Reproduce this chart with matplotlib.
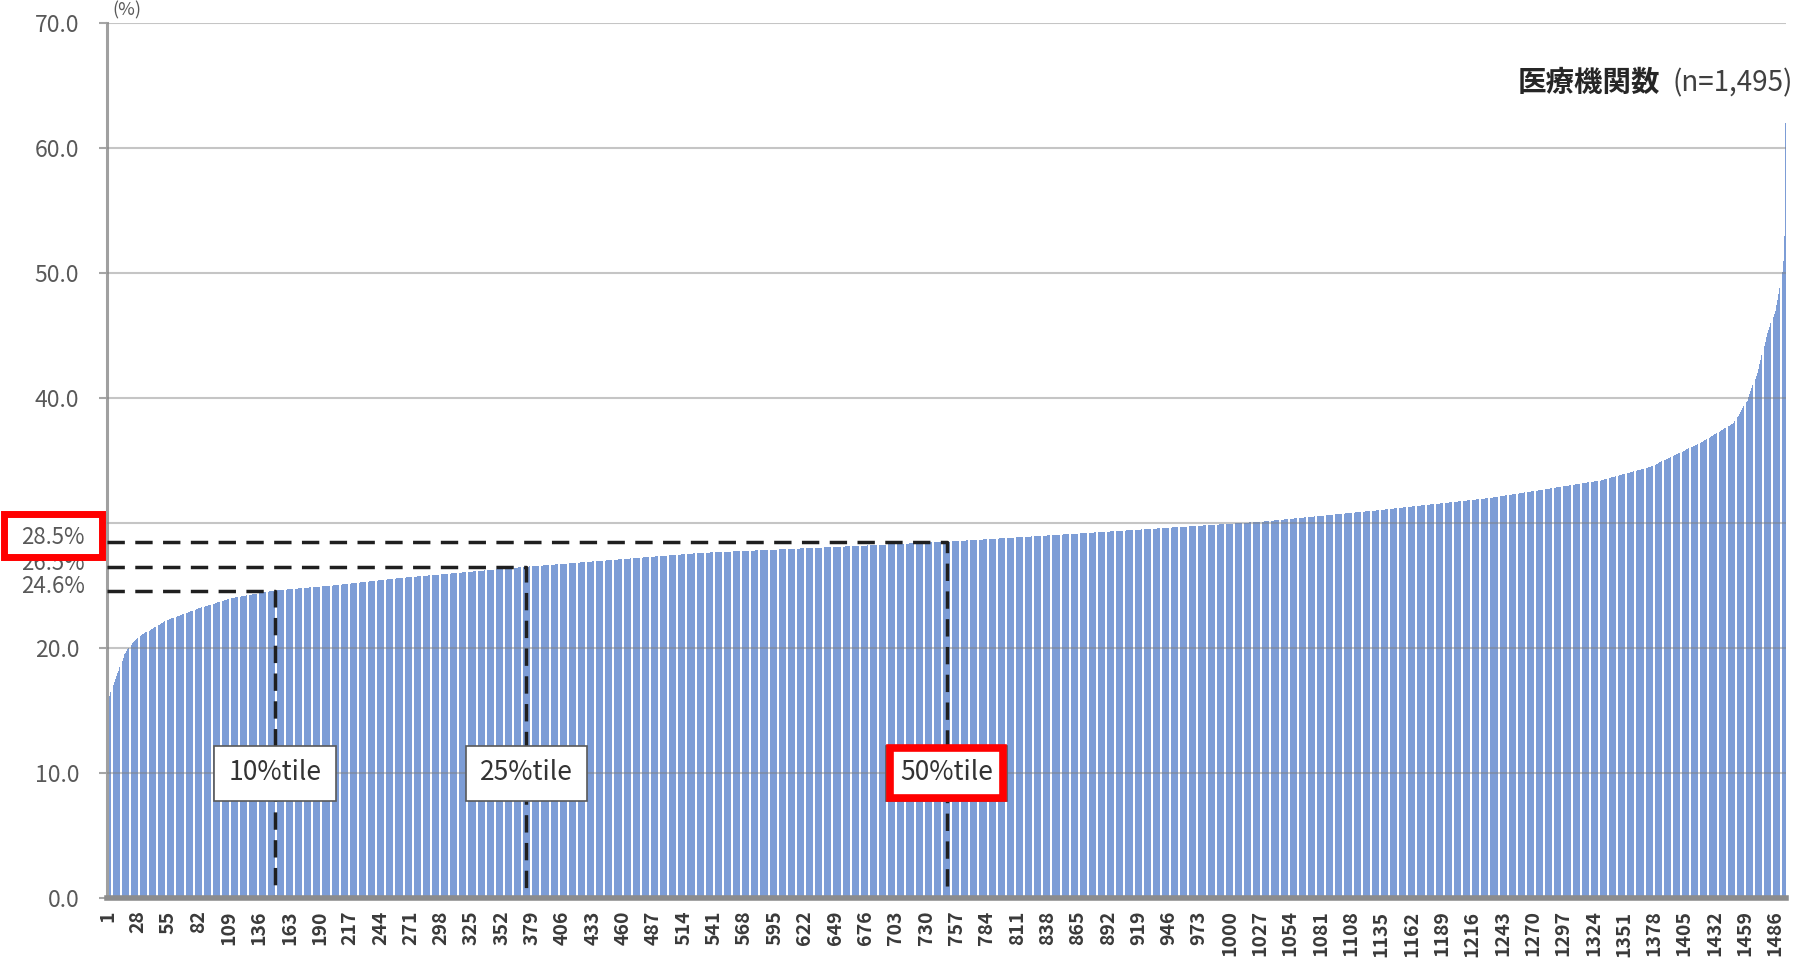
import numpy as np
import matplotlib.pyplot as plt
import matplotlib.transforms as mtransforms
from matplotlib.patches import Rectangle

plt.rcParams['font.family'] = ['Noto Sans CJK JP', 'DejaVu Sans']

n_total = 1495

# share (%) at a set of ranks, institutions sorted ascending
read_rank = [1, 2, 5, 11, 16, 23, 30, 38, 53, 83, 112, 143, 150, 201, 261, 374,
             528, 677, 748, 873, 1028, 1130, 1232, 1330, 1375, 1419, 1449, 1461,
             1470, 1479, 1486, 1491, 1493, 1494, 1495]
read_value = [15.5, 15.8, 16.8, 18.2, 19.5, 20.4, 21.0, 21.4, 22.2, 23.2, 24.0, 24.5,
              24.6, 25.0, 25.6, 26.5, 27.6, 28.2, 28.5, 29.2, 30.1, 31.0, 32.0, 33.4,
              34.5, 36.4, 38.0, 39.8, 42.0, 45.2, 47.0, 49.2, 51.0, 53.0, 62.0]

pct_names = ['10%tile', '25%tile', '50%tile']
pct_rank = [150, 374, 748]
pct_value = [24.6, 26.5, 28.5]
pct_label = ['24.6%', '26.5%', '28.5%']

y_ticks = [0, 10, 20, 30, 40, 50, 60, 70]
y_ticklabels = ['0.0', '10.0', '20.0', '', '40.0', '50.0', '60.0', '70.0']
x_label_step = 27

rank = np.arange(1, n_total + 1)
share = np.interp(rank, read_rank, read_value)

W, H = 1797, 960
fig = plt.figure(figsize=(W / 100, H / 100), dpi=100)
ax = fig.add_axes([107 / W, 1 - 898 / H, (1786 - 107) / W, (898 - 23) / H])

ax.bar(rank, share, width=0.78, color='#7d9dd6', linewidth=0, zorder=2)
ax.set_xlim(0.5, n_total + 0.5)
ax.set_ylim(0, 70)

# horizontal grid drawn over the bars, like the original
for y in y_ticks[1:]:
    ax.axhline(y, color='#7f7f7f', alpha=0.45, lw=1.5, zorder=3)

for s in ['top', 'right']:
    ax.spines[s].set_visible(False)
ax.spines['left'].set_color('#a0a0a0')
ax.spines['left'].set_linewidth(2.2)
ax.spines['bottom'].set_color('#8c8c8c')
ax.spines['bottom'].set_linewidth(4)
ax.spines['bottom'].set_zorder(8)

ax.set_yticks(y_ticks)
ax.set_yticklabels(y_ticklabels)
ax.tick_params(axis='y', length=6, width=1.5, color='#a6a6a6', pad=14,
               labelsize=16.5, labelcolor='#595959')

ax.set_xticks(rank[::x_label_step])
ax.set_xticklabels([str(r) for r in rank[::x_label_step]], rotation=90,
                   fontsize=14, fontweight='bold', color='#3a3a3a')
ax.tick_params(axis='x', length=0, pad=9)

# percentile guide lines and boxes
for name, r, v in zip(pct_names, pct_rank, pct_value):
    ax.plot([0.5, r, r], [v, v, 0], color='#1f1f1f', lw=2.5, dashes=(5, 3),
            zorder=4, clip_on=False)
    ax.add_patch(Rectangle((r - 54, 10 - 2.2), 108, 4.4, fc='white', ec='#595959',
                           lw=1.2, zorder=5))
    ax.text(r, 10, name, ha='center', va='center', fontsize=19, color='#333333', zorder=6)

# red highlight around the median box
ax.add_patch(Rectangle((pct_rank[2] - 50, 8.0), 100, 4.0, fill=False, ec='red',
                       lw=5.5, zorder=7, clip_on=False))

# percentile values on the left
lab_tr = mtransforms.blended_transform_factory(fig.transFigure, ax.transData)
for lab, v in zip(pct_label, pct_value):
    z = 6 if lab == '28.5%' else 4
    fig.text(85 / W, v + 0.3, lab, ha='right', va='center', fontsize=16,
             color='#595959', transform=lab_tr, zorder=z)
fig.patches.append(Rectangle((3.5 / W, 1 - 556.5 / H), 98 / W, 43 / H,
                             transform=fig.transFigure, fc='white', ec='red',
                             lw=5, zorder=5))

fig.text(127 / W, 1 - 1 / H, '(%)', ha='center', va='top', fontsize=13,
         color='#595959')
fig.text(1793 / W, 1 - 83 / H, '(n=1,495)', ha='right', va='center', fontsize=20,
         color='#404040')
fig.text(1660 / W, 1 - 83 / H, '医療機関数', ha='right', va='center', fontsize=20.5,
         fontweight='bold', color='#262626')

fig.savefig('out.png', dpi=100)
